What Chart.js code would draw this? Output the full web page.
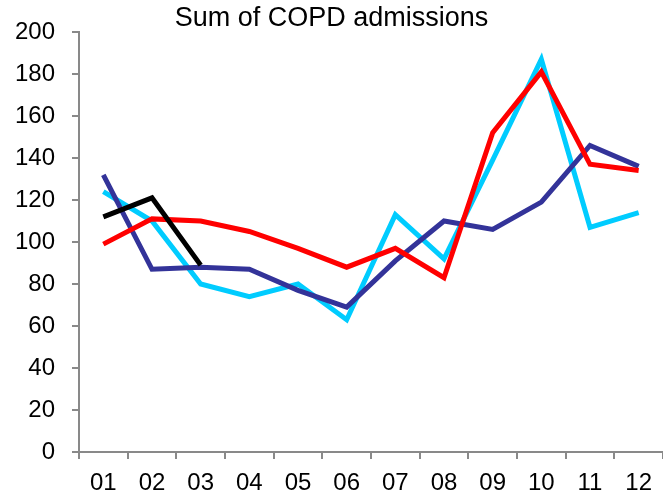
<!DOCTYPE html>
<html>
<head>
<meta charset="utf-8">
<script src="https://cdn.jsdelivr.net/npm/chart.js@4.4.0/dist/chart.umd.min.js"></script>
<style>
  html, body { margin: 0; padding: 0; background: #fff; }
  #wrap { width: 663px; height: 499px; }
</style>
</head>
<body>
<div id="wrap"><canvas id="copdChart" width="663" height="499"></canvas></div>
<script>
const months = ['01', '02', '03', '04', '05', '06', '07', '08', '09', '10', '11', '12'];
const seriesCyan = [124, 110, 80, 74, 80, 63, 113, 92, 139, 187, 107, 114];
const seriesNavy = [132, 87, 88, 87, 77, 69, 91, 110, 106, 119, 146, 136];
const seriesRed = [99, 111, 110, 105, 97, 88, 97, 83, 152, 181, 137, 134];
const seriesBlack = [112, 121, 89, null, null, null, null, null, null, null, null, null];
const yTicks = [0, 20, 40, 60, 80, 100, 120, 140, 160, 180, 200];

const axisColor = '#898989';
const tickFont = { family: '"Liberation Sans", Arial, sans-serif', size: 24 };
const titleFont = { family: '"Liberation Sans", Arial, sans-serif', size: 27, weight: 'normal', lineHeight: 1 };

function line(data, color, order) {
    return {
        data: data,
        order: order,
        borderColor: color,
        backgroundColor: color,
        borderWidth: 5,
        pointRadius: 0,
        tension: 0,
        fill: false,
        spanGaps: false
    };
}

// lower order is drawn on top
const ctx = document.getElementById('copdChart').getContext('2d');
new Chart(ctx, {
    type: 'line',
    data: {
        labels: months,
        datasets: [
            line(seriesCyan, '#00ccff', 4),
            line(seriesNavy, '#333399', 3),
            line(seriesRed, '#ff0000', 2),
            line(seriesBlack, '#000000', 1)
        ]
    },
    options: {
        responsive: false,
        animation: false,
        layout: { padding: 0 },
        plugins: {
            legend: { display: false },
            tooltip: { enabled: false },
            title: {
                display: true,
                text: 'Sum of COPD admissions',
                color: '#000',
                font: titleFont,
                padding: { top: 5, bottom: 0 }
            }
        },
        scales: {
            x: {
                offset: true,
                grid: {
                    display: true,
                    drawOnChartArea: false,
                    offset: true,
                    tickLength: 7,
                    color: axisColor,
                    lineWidth: 2
                },
                border: { display: true, color: axisColor, width: 2 },
                ticks: { color: '#000', font: tickFont, padding: 10, maxRotation: 0, autoSkip: false },
                afterFit: function(scale) { scale.height = 47; }
            },
            y: {
                min: 0,
                max: 200,
                afterBuildTicks: function(scale) {
                    scale.ticks = yTicks.map(v => ({ value: v }));
                },
                grid: {
                    display: true,
                    drawOnChartArea: false,
                    tickLength: 7,
                    color: axisColor,
                    lineWidth: 2
                },
                border: { display: true, color: axisColor, width: 2 },
                ticks: { color: '#000', font: tickFont, padding: 17 },
                afterFit: function(scale) { scale.width = 79; }
            }
        }
    }
});
</script>
</body>
</html>
